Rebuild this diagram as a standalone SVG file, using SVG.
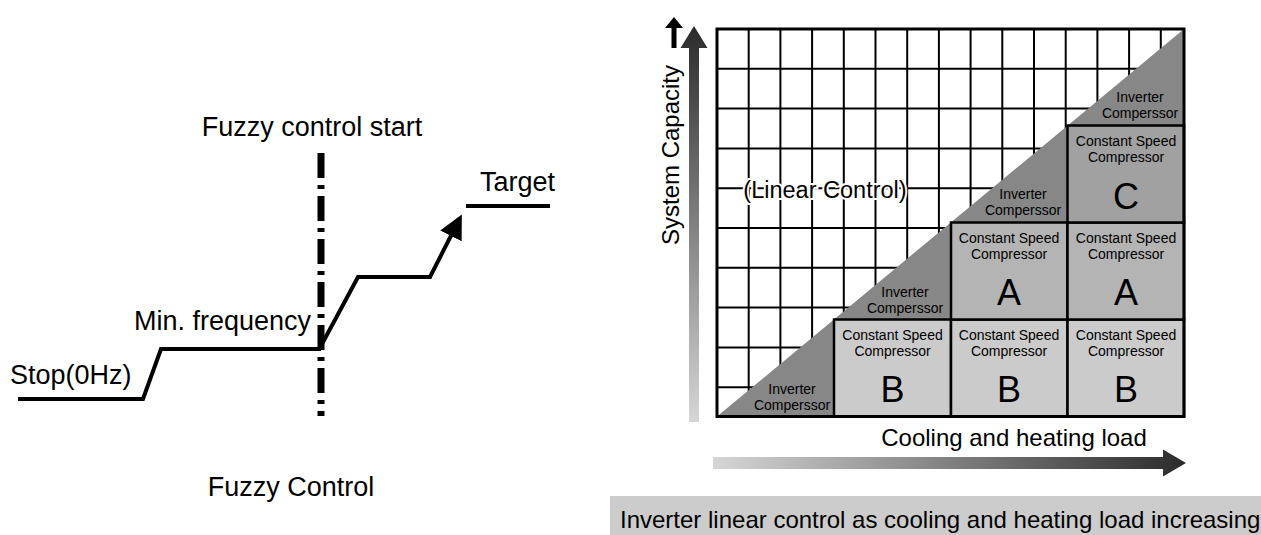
<svg xmlns="http://www.w3.org/2000/svg" width="1261" height="535" viewBox="0 0 1261 535">
<defs>
<style>
text{font-family:"Liberation Sans",Arial,Helvetica,sans-serif;fill:#000}
.lbl{font-size:27px}
.rl{font-size:24px}
.sm{font-size:14px;text-anchor:middle}
.big{font-size:36px;text-anchor:middle}
.ln{fill:none;stroke:#000;stroke-width:4;stroke-linejoin:miter}
.box{stroke:#000;stroke-width:2.5}
</style>
<linearGradient id="gv" gradientUnits="userSpaceOnUse" x1="0" y1="26" x2="0" y2="422">
<stop offset="0" stop-color="#2b2b2b"/><stop offset="1" stop-color="#d6d6d6"/>
</linearGradient>
<linearGradient id="gh" gradientUnits="userSpaceOnUse" x1="713" y1="0" x2="1186" y2="0">
<stop offset="0" stop-color="#d6d6d6"/><stop offset="1" stop-color="#2b2b2b"/>
</linearGradient>
<marker id="ah" markerWidth="6" markerHeight="6" refX="5" refY="3" orient="auto" markerUnits="strokeWidth">
<path d="M0,0 L6,3 L0,6 Z" fill="#000"/>
</marker>
</defs>
<rect width="1261" height="535" fill="#fff"/>

<!-- Left chart -->
<g id="connectors">
<line id="fuzzy-start-line" x1="321" y1="153" x2="321" y2="416" stroke="#000" stroke-width="7" stroke-dasharray="25 7 4 7"/>
<polyline class="ln" points="18,399 143,399 161,349 321,349"/>
<polyline class="ln" points="322,344 358,277 430,277 460,218" marker-end="url(#ah)"/>
<line class="ln" x1="466" y1="206" x2="550" y2="206"/>
</g>
<g id="label-fuzzy-start"><text class="lbl" x="312" y="136" text-anchor="middle">Fuzzy control start</text></g>
<g id="label-target"><text class="lbl" x="480" y="191">Target</text></g>
<g id="label-min"><text class="lbl" x="311" y="330" text-anchor="end">Min. frequency</text></g>
<g id="label-stop"><text class="lbl" x="10" y="384">Stop(0Hz)</text></g>
<g id="label-fuzzy"><text class="lbl" x="291" y="496" text-anchor="middle">Fuzzy Control</text></g>

<!-- Right chart: grid -->
<g id="grid">
<path fill="none" stroke="#000" stroke-width="2" d="M748.7,29V416 M780.4,29V416 M812.1,29V416 M843.8,29V416 M875.5,29V416 M907.2,29V416 M938.9,29V416 M970.6,29V416 M1002.3,29V416 M1034,29V416 M1065.7,29V416 M1097.4,29V416 M1129.1,29V416 M1160.8,29V416 M717,68.8H1184 M717,108.6H1184 M717,148.4H1184 M717,188.2H1184 M717,228H1184 M717,267.8H1184 M717,307.6H1184 M717,347.4H1184 M717,387.2H1184"/>
</g>
<g id="inverter-region">
<polygon points="717,416.5 1184,29 1184,416.5" fill="#878787"/>
</g>
<g id="box-b1"><rect class="box" x="834" y="319.5" width="117" height="97" fill="#cbcbcb"/>
<text class="sm" x="892.5" y="340">Constant Speed</text><text class="sm" x="892.5" y="356">Compressor</text><text class="big" x="892.5" y="402">B</text></g>
<g id="box-b2"><rect class="box" x="951" y="319.5" width="116.5" height="97" fill="#cbcbcb"/>
<text class="sm" x="1009" y="340">Constant Speed</text><text class="sm" x="1009" y="356">Compressor</text><text class="big" x="1009" y="402">B</text></g>
<g id="box-b3"><rect class="box" x="1067.5" y="319.5" width="116.5" height="97" fill="#cbcbcb"/>
<text class="sm" x="1126" y="340">Constant Speed</text><text class="sm" x="1126" y="356">Compressor</text><text class="big" x="1126" y="402">B</text></g>
<g id="box-a1"><rect class="box" x="951" y="222.5" width="116.5" height="97" fill="#b4b4b4"/>
<text class="sm" x="1009" y="243">Constant Speed</text><text class="sm" x="1009" y="259">Compressor</text><text class="big" x="1009" y="305">A</text></g>
<g id="box-a2"><rect class="box" x="1067.5" y="222.5" width="116.5" height="97" fill="#b4b4b4"/>
<text class="sm" x="1126" y="243">Constant Speed</text><text class="sm" x="1126" y="259">Compressor</text><text class="big" x="1126" y="305">A</text></g>
<g id="box-c"><rect class="box" x="1067.5" y="125.5" width="116.5" height="97" fill="#a1a1a1"/>
<text class="sm" x="1126" y="146">Constant Speed</text><text class="sm" x="1126" y="162">Compressor</text><text class="big" x="1126" y="209">C</text></g>
<g id="inv-1"><text class="sm" x="792" y="394">Inverter</text><text class="sm" x="792" y="410">Comperssor</text></g>
<g id="inv-2"><text class="sm" x="905" y="297">Inverter</text><text class="sm" x="905" y="313">Comperssor</text></g>
<g id="inv-3"><text class="sm" x="1023" y="199">Inverter</text><text class="sm" x="1023" y="215">Comperssor</text></g>
<g id="inv-4"><text class="sm" x="1140" y="102">Inverter</text><text class="sm" x="1140" y="118">Comperssor</text></g>
<g id="frame"><rect x="717" y="29" width="467" height="387.5" fill="none" stroke="#000" stroke-width="3"/></g>
<g id="label-linear"><text class="rl" x="825" y="198" text-anchor="middle" stroke="#fff" stroke-width="4" paint-order="stroke" style="font-size:23.5px">(Linear Control)</text></g>

<!-- axes -->
<g id="axis-y">
<path d="M689,422 V48 H680.5 L694,26 L707.5,48 H699 V422 Z" fill="url(#gv)"/>
<path d="M671.5,48 V28 H665 L674,17 L683,28 H676.5 V48 Z" fill="#000"/>
<text class="rl" transform="translate(679,155) rotate(-90)" text-anchor="middle">System Capacity</text>
</g>
<g id="axis-x">
<path d="M713,457 H1163 V449.5 L1186,463 L1163,476.5 V469 H713 Z" fill="url(#gh)"/>
<text class="rl" x="1014" y="446" text-anchor="middle">Cooling and heating load</text>
</g>
<g id="caption">
<rect x="610" y="496" width="651" height="39" fill="#cccccc"/>
<text class="rl" x="620" y="528">Inverter linear control as cooling and heating load increasing</text>
</g>
</svg>
